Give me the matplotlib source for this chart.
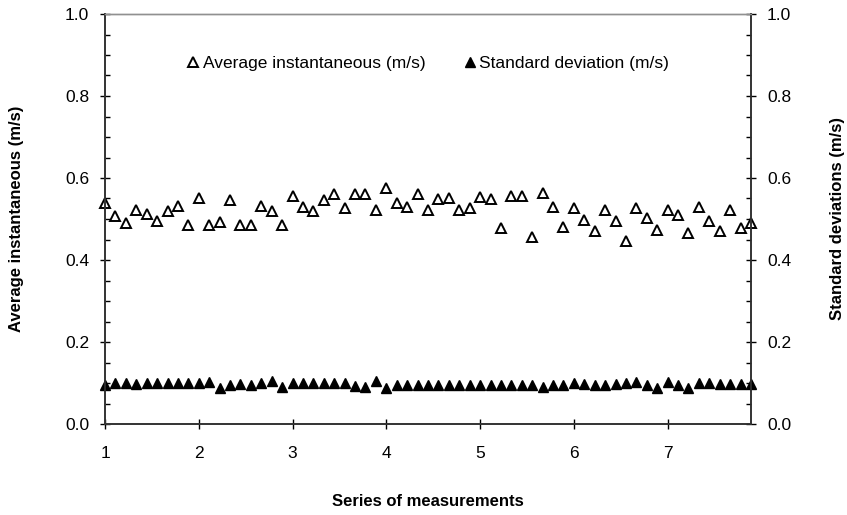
import numpy as np
from matplotlib import pyplot as plt

plt.rcParams['font.family'] = ['Liberation Sans', 'DejaVu Sans']

# 9 measurements per series, 7 series
n_points = 63
series_pos = 1 + np.arange(n_points) / 9

avg_speed = [
    0.540, 0.507, 0.491, 0.521, 0.511, 0.495, 0.519, 0.531, 0.485, 0.551,
    0.486, 0.493, 0.547, 0.485, 0.486, 0.531, 0.520, 0.485, 0.556, 0.530,
    0.519, 0.546, 0.560, 0.528, 0.561, 0.560, 0.521, 0.576, 0.539, 0.530,
    0.561, 0.523, 0.548, 0.550, 0.523, 0.526, 0.553, 0.549, 0.477, 0.556,
    0.555, 0.455, 0.564, 0.529, 0.481, 0.527, 0.498, 0.470, 0.521, 0.496,
    0.447, 0.527, 0.503, 0.473, 0.522, 0.509, 0.465, 0.529, 0.495, 0.471,
    0.523, 0.478, 0.490,
]
std_dev = [
    0.095, 0.101, 0.099, 0.098, 0.101, 0.099, 0.101, 0.101, 0.101, 0.101,
    0.103, 0.088, 0.095, 0.098, 0.095, 0.099, 0.104, 0.090, 0.099, 0.101,
    0.101, 0.101, 0.099, 0.099, 0.092, 0.091, 0.104, 0.087, 0.095, 0.095,
    0.095, 0.095, 0.094, 0.096, 0.095, 0.095, 0.096, 0.095, 0.096, 0.096,
    0.095, 0.096, 0.091, 0.094, 0.095, 0.099, 0.097, 0.094, 0.095, 0.097,
    0.099, 0.103, 0.095, 0.088, 0.103, 0.094, 0.088, 0.099, 0.099, 0.097,
    0.097, 0.097, 0.097,
]

fig = plt.figure(figsize=(8.47, 5.15), dpi=100)
ax = fig.add_axes([105 / 847, 1 - 424 / 515, 646 / 847, 410 / 515])
ax2 = ax.twinx()

avg_line, = ax.plot(series_pos, avg_speed, linestyle='none', marker='^',
                    ms=7.8, mfc='white', mec='black', mew=1.4,
                    label='Average instantaneous (m/s)', clip_on=False)
std_line, = ax2.plot(series_pos, std_dev, linestyle='none', marker='^',
                     ms=7.8, mfc='black', mec='black', mew=1.0,
                     label='Standard deviation (m/s)', clip_on=False)

for a in (ax, ax2):
    a.set_xlim(1, series_pos[-1])
    a.set_ylim(0, 1)
    a.set_yticks(np.arange(0, 1.01, 0.2))
    a.set_yticks(np.arange(0, 1.01, 0.05), minor=True)
    a.yaxis.set_major_formatter(plt.FormatStrFormatter('%.1f'))
    a.tick_params(axis='y', which='major', direction='inout', length=7,
                  width=1, labelsize=12.5, pad=8)
    a.tick_params(axis='y', which='minor', direction='in', length=3.6,
                  width=1)
    a.spines['top'].set_color('#909090')
    a.spines['top'].set_linewidth(1)
    for side in ('left', 'right', 'bottom'):
        a.spines[side].set_color('#333333')
        a.spines[side].set_linewidth(1.2)

ax.set_xticks(range(1, 8))
ax.tick_params(axis='x', which='major', direction='inout', length=7,
               width=1, labelsize=12.5, pad=12)

ax.set_xlabel('Series of measurements', fontsize=12, fontweight='bold')
ax.set_ylabel('Average instantaneous (m/s)', fontsize=12, fontweight='bold')
ax2.set_ylabel('Standard deviations (m/s)', fontsize=12, fontweight='bold')
ax.xaxis.set_label_coords(0.5, -0.171)
ax.yaxis.set_label_coords(-0.125, 0.5)
ax2.yaxis.set_label_coords(1.122, 0.5)

leg = ax2.legend(handles=[avg_line, std_line], loc='center',
                 bbox_to_anchor=(0.5, 0.880), ncol=2, frameon=False,
                 fontsize=12.5, handletextpad=0.2, columnspacing=2.2,
                 handlelength=0.7, markerscale=1.0)

fig.savefig('out.png', dpi=100)
